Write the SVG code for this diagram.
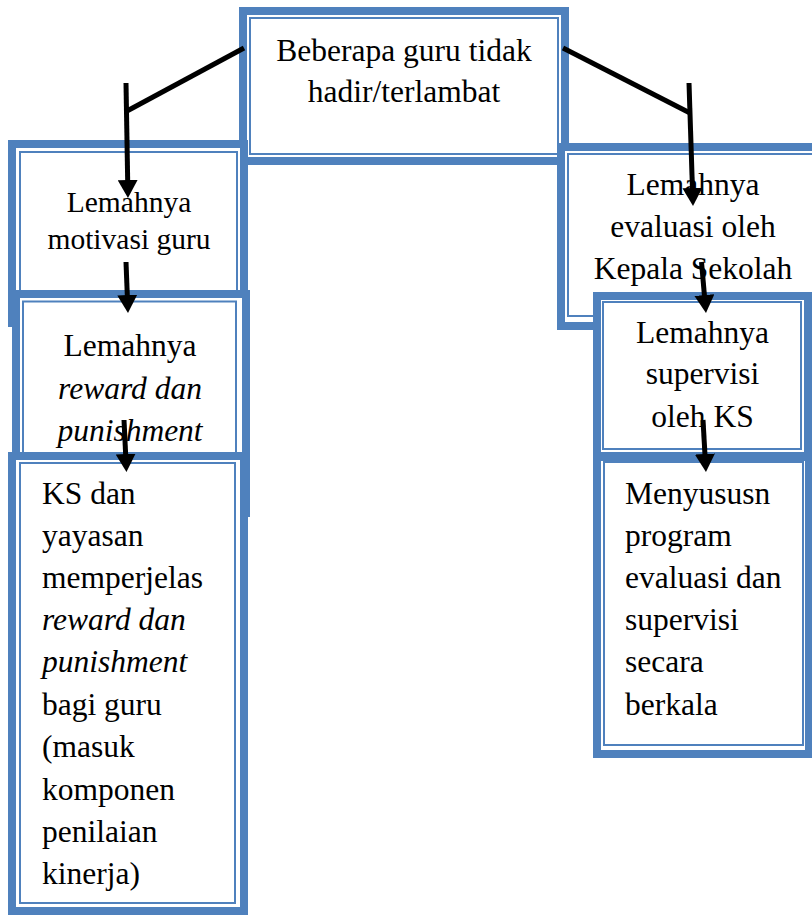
<svg xmlns="http://www.w3.org/2000/svg" width="812" height="915" viewBox="0 0 812 915">
<style>
.outer{fill:#fff;stroke:#4F81BD;stroke-width:8}
.inner{fill:none;stroke:#4F81BD;stroke-width:2}
.t{font-family:"Liberation Serif","Times New Roman",serif;font-size:31.5px;fill:#000}
.s{font-size:29.5px}
.c{text-anchor:middle}
.i{font-style:italic}
.conn line{stroke:#000;stroke-width:5;fill:none}
</style>
<defs>
<marker id="ah" markerUnits="userSpaceOnUse" markerWidth="18" markerHeight="20" viewBox="0 0 18 20" refX="8" refY="10" orient="auto">
<path d="M0,0 L18,10 L0,20 z" fill="#000"/>
</marker>
</defs>
<rect width="812" height="915" fill="#fff"/>

<g id="n-top">
<rect class="outer" x="243" y="11" width="322" height="150"/>
<rect class="inner" x="250" y="18" width="308" height="136"/>
<text class="t c" x="404" y="61">Beberapa guru tidak</text>
<text class="t c" x="404" y="102">hadir/terlambat</text>
</g>

<g id="n-motivasi">
<rect class="outer" x="12" y="144" width="232" height="179"/>
<rect class="inner" x="20" y="152" width="217" height="164"/>
<text class="t s c" x="129" y="212">Lemahnya</text>
<text class="t s c" x="129" y="248.5">motivasi guru</text>
</g>

<g id="n-reward">
<rect class="outer" x="16" y="294" width="230" height="219"/>
<rect class="inner" x="23" y="301.5" width="213" height="204"/>
<text class="t c" x="130" y="356">Lemahnya</text>
<text class="t c i" x="130" y="398.5">reward dan</text>
<text class="t c i" x="130" y="441">punishment</text>
</g>

<g id="n-ks">
<rect class="outer" x="12" y="456" width="232" height="455"/>
<rect class="inner" x="20" y="463" width="215" height="440"/>
<text class="t" x="42" y="503.5">KS dan</text>
<text class="t" x="42" y="545.5">yayasan</text>
<text class="t" x="42" y="588">memperjelas</text>
<text class="t i" x="42" y="630">reward dan</text>
<text class="t i" x="42" y="672">punishment</text>
<text class="t" x="42" y="715">bagi guru</text>
<text class="t" x="42" y="757">(masuk</text>
<text class="t" x="42" y="799.5">komponen</text>
<text class="t" x="42" y="841.5">penilaian</text>
<text class="t" x="42" y="883.5">kinerja)</text>
</g>

<g id="n-evaluasi">
<rect class="outer" x="561" y="147" width="270" height="179"/>
<rect class="inner" x="568" y="154" width="260" height="162"/>
<text class="t c" x="693" y="195">Lemahnya</text>
<text class="t c" x="693" y="237">evaluasi oleh</text>
<text class="t c" x="693" y="278.5">Kepala Sekolah</text>
</g>

<g id="n-supervisi">
<rect class="outer" x="597" y="296" width="211" height="160"/>
<rect class="inner" x="603" y="302" width="198" height="147"/>
<text class="t c" x="702.5" y="343">Lemahnya</text>
<text class="t c" x="702.5" y="383.5">supervisi</text>
<text class="t c" x="702.5" y="427">oleh KS</text>
</g>

<g id="n-program">
<rect class="outer" x="597" y="457" width="212" height="297"/>
<rect class="inner" x="604" y="462" width="199" height="283"/>
<text class="t" x="625" y="503.5">Menyususn</text>
<text class="t" x="625" y="546">program</text>
<text class="t" x="625" y="588">evaluasi dan</text>
<text class="t" x="625" y="630">supervisi</text>
<text class="t" x="625" y="672">secara</text>
<text class="t" x="625" y="715">berkala</text>
</g>

<g id="connectors" class="conn">
<line x1="244" y1="48" x2="127" y2="111"/>
<line x1="563" y1="48" x2="690" y2="113"/>
<line x1="126" y1="83" x2="127.8" y2="188" marker-end="url(#ah)"/>
<line x1="689" y1="83" x2="692.7" y2="196" marker-end="url(#ah)"/>
<line x1="126" y1="262" x2="127.6" y2="303" marker-end="url(#ah)"/>
<line x1="124" y1="420" x2="126" y2="462" marker-end="url(#ah)"/>
<line x1="701.5" y1="262" x2="705.1" y2="303" marker-end="url(#ah)"/>
<line x1="703" y1="420" x2="705.4" y2="462" marker-end="url(#ah)"/>
</g>
</svg>
